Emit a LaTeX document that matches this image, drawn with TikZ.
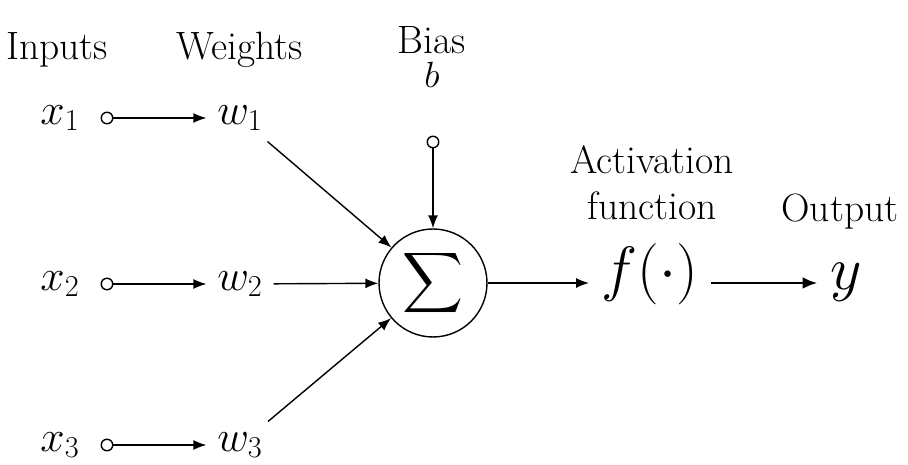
\documentclass[tikz,border=0pt]{standalone}
\usepackage{amsmath,amssymb}
\usepackage{tikz}
\usetikzlibrary{arrows.meta,positioning,calc}

\begin{document}
\begin{tikzpicture}[x=0.02cm, y=-0.02cm,
  lbl/.style={inner sep=1pt, align=center, font=\fontsize{22.5}{26}\selectfont},
  var/.style={inner sep=6pt, font=\fontsize{24}{28}\selectfont},
  big/.style={inner sep=5pt, text height=0.75em, text depth=0.25em, scale=1.4,
              font=\fontsize{24}{28}\selectfont},
  dot/.style={draw, circle, minimum size=0.23cm, inner sep=0pt, line width=0.8pt},
  sumnode/.style={draw, circle, minimum size=2.16cm, inner sep=0pt, line width=0.8pt,
                  font=\fontsize{24}{28}\selectfont},
  ar/.style={-{Latex[length=2.6mm, width=2mm]}, line width=0.8pt},
  thk/.style={-{Latex[length=3mm, width=2.4mm]}, line width=1.7pt}
]
\useasboundingbox (0,0) rectangle (908,465);

% --- headings -----------------------------------------------------------
\node[lbl] (hin)  at (57,50)   {Inputs};
\node[lbl] (hw)   at (240,50)  {Weights};
\node[lbl] (hb)   at (432,40)  {Bias};
\node[lbl] (bsym) at (432,75)  {$b$};
\node[lbl] (hact) at (652,183) {Activation\\function};
\node[lbl] (hout) at (840,212) {Output};

% --- inputs and weights -------------------------------------------------
\node[var] (x1) at (60,118) {$x_1$};
\node[var] (x2) at (60,284) {$x_2$};
\node[var] (x3) at (60,445) {$x_3$};
\node[dot] (d1) at (107,118) {};
\node[dot] (d2) at (107,284) {};
\node[dot] (d3) at (107,445) {};
\node[var] (w1) at (240,118) {$w_1$};
\node[var] (w2) at (240,284) {$w_2$};
\node[var] (w3) at (240,445) {$w_3$};

\draw[ar] (d1) -- (w1);
\draw[ar] (d2) -- (w2);
\draw[ar] (d3) -- (w3);

% --- summing junction ---------------------------------------------------
\node[sumnode] (sum)  at (433,283) {$\displaystyle\sum$};
\node[dot]     (bdot) at (433,142) {};

\draw[ar] (w1) -- (sum);
\draw[ar] (w2) -- (sum);
\draw[ar] (w3) -- (sum);
\draw[ar] (bdot) -- (sum);

% --- activation and output ----------------------------------------------
\node[big] (act) at (650,283) {$f(\cdot)$};
\node[big] (y)   at (846,283) {$y$};

\draw[ar]  (sum) -- (act);
\draw[thk] (act) -- (y);
\end{tikzpicture}
\end{document}
